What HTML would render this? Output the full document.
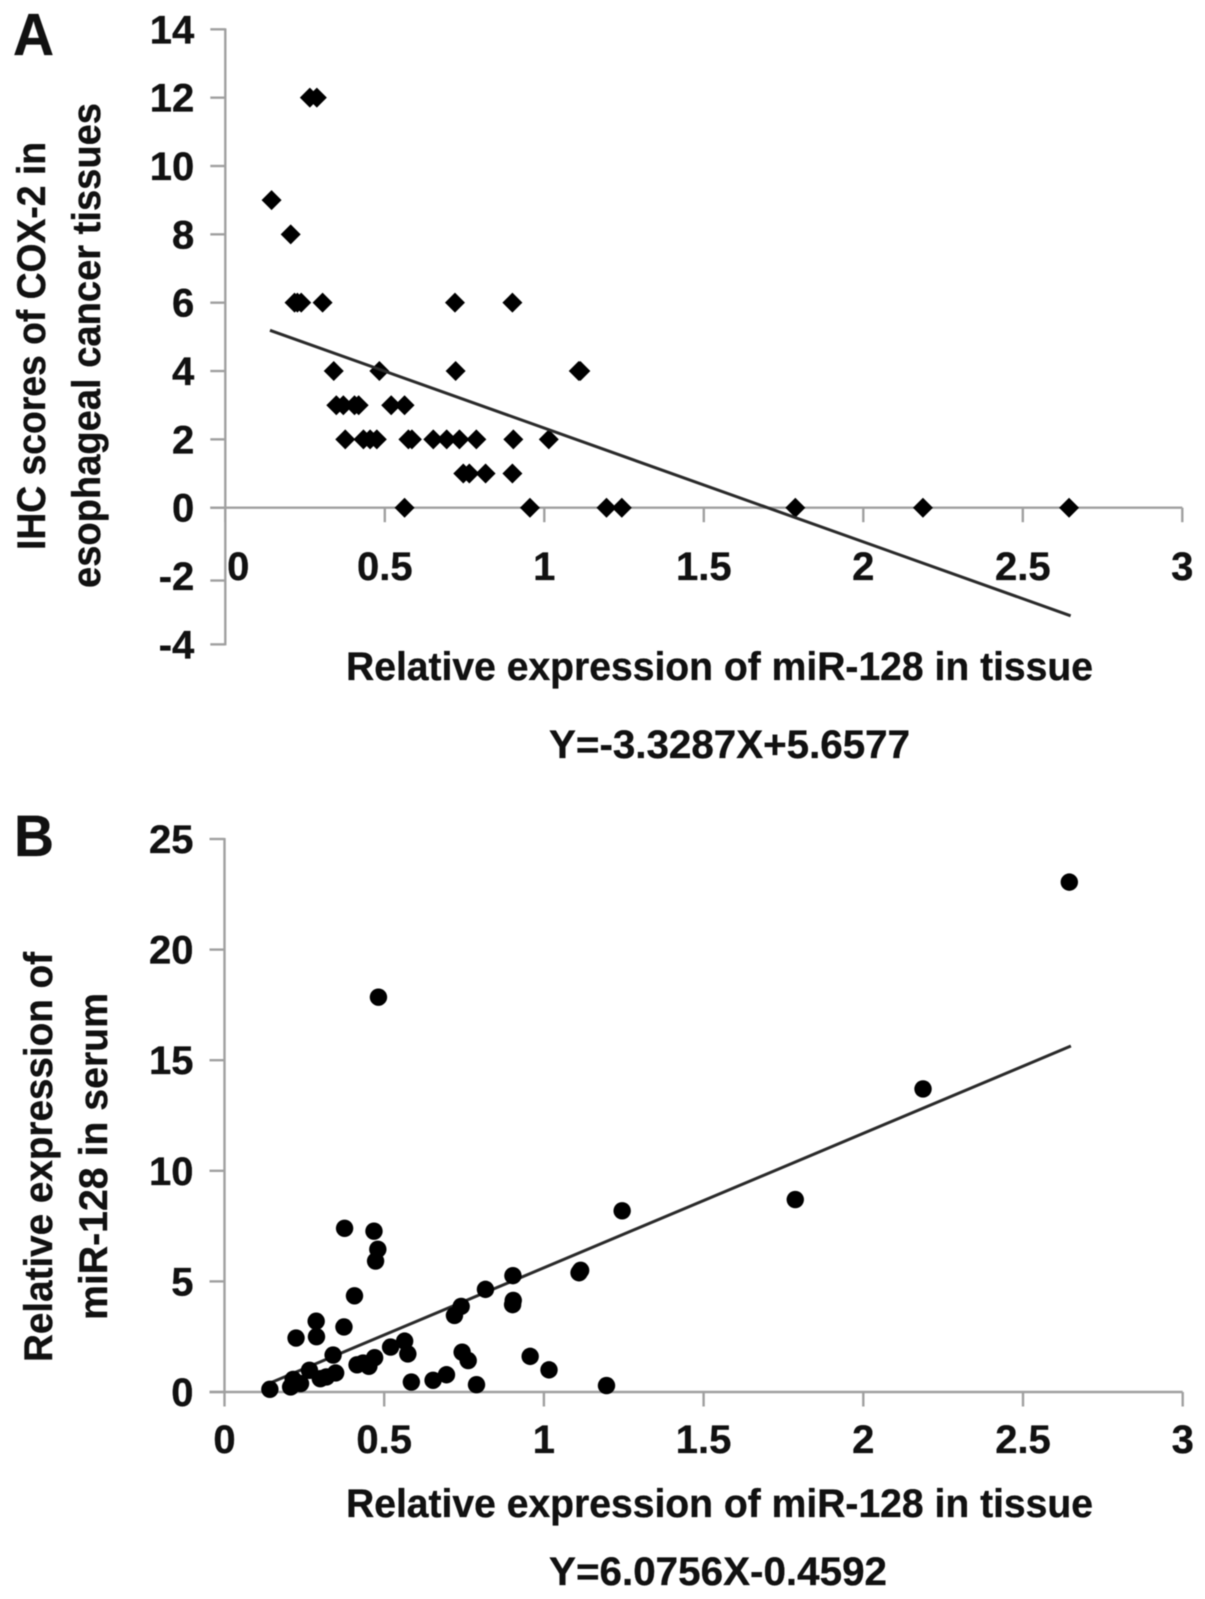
<!DOCTYPE html>
<html lang="en">
<head>
<meta charset="utf-8">
<title>miR-128 correlation scatter plots</title>
<style>
  html, body { margin: 0; padding: 0; background: #fff; }
  svg { display: block; filter: blur(0.6px); }
  text { font-family: "Liberation Sans", sans-serif; font-weight: 700; fill: #111; stroke: #111; stroke-width: 0.35px; }
</style>
</head>
<body>
<svg id="figure" xmlns="http://www.w3.org/2000/svg" width="1205" height="1599" viewBox="0 0 1205 1599">
  <rect x="0" y="0" width="1205" height="1599" fill="#ffffff"/>

  <g id="panelA">
    <text x="13" y="55" font-size="59" textLength="41" lengthAdjust="spacingAndGlyphs">A</text>
    <g id="panelA-axes"></g>
    <g id="panelA-marks"></g>
    <text transform="translate(45,550) rotate(-90)" font-size="40" textLength="408" lengthAdjust="spacingAndGlyphs">IHC scores of COX-2 in</text>
    <text transform="translate(100,588) rotate(-90)" font-size="40" textLength="485" lengthAdjust="spacingAndGlyphs">esophageal cancer tissues</text>
    <text x="346" y="680" font-size="40" textLength="747" lengthAdjust="spacingAndGlyphs">Relative expression of miR-128 in tissue</text>
    <text x="549" y="758" font-size="40" textLength="361" lengthAdjust="spacingAndGlyphs">Y=-3.3287X+5.6577</text>
  </g>

  <g id="panelB">
    <text x="14" y="856" font-size="58" textLength="40" lengthAdjust="spacingAndGlyphs">B</text>
    <g id="panelB-axes"></g>
    <g id="panelB-marks"></g>
    <text transform="translate(52,1362) rotate(-90)" font-size="40" textLength="410" lengthAdjust="spacingAndGlyphs">Relative expression of</text>
    <text transform="translate(107,1320) rotate(-90)" font-size="40" textLength="327" lengthAdjust="spacingAndGlyphs">miR-128 in serum</text>
    <text x="346" y="1517" font-size="40" textLength="747" lengthAdjust="spacingAndGlyphs">Relative expression of miR-128 in tissue</text>
    <text x="549" y="1585" font-size="40" textLength="338" lengthAdjust="spacingAndGlyphs">Y=6.0756X-0.4592</text>
  </g>
</svg>

<script>
// Panel A data
const xTicksA = [0, 0.5, 1, 1.5, 2, 2.5, 3];
const yTicksA = [14, 12, 10, 8, 6, 4, 2, 0, -2, -4];
const tissueA = [0.145, 0.205, 0.265, 0.287,
  0.217, 0.226, 0.238, 0.305, 0.72, 0.90,
  0.34, 0.483, 0.722, 1.108, 1.113,
  0.348, 0.37, 0.405, 0.418, 0.52, 0.562,
  0.376, 0.433, 0.454, 0.475, 0.574, 0.585, 0.652, 0.694, 0.734, 0.787, 0.903, 1.014,
  0.746, 0.765, 0.816, 0.90,
  0.562, 0.955, 1.195, 1.243, 1.787, 2.187, 2.645];
const scoresA = [9, 8, 12, 12,
  6, 6, 6, 6, 6, 6,
  4, 4, 4, 4, 4,
  3, 3, 3, 3, 3, 3,
  2, 2, 2, 2, 2, 2, 2, 2, 2, 2, 2, 2,
  1, 1, 1, 1,
  0, 0, 0, 0, 0, 0, 0];
const trendA = [-3.3287, 5.6577];
const trendRangeA = [0.14, 2.65];

// Panel B data
const xTicksB = [0, 0.5, 1, 1.5, 2, 2.5, 3];
const yTicksB = [25, 20, 15, 10, 5, 0];
const tissueB = [0.142, 0.207, 0.215, 0.238, 0.224, 0.287, 0.288, 0.266, 0.30, 0.319,
  0.348, 0.34, 0.374, 0.376, 0.407, 0.415, 0.434, 0.452, 0.47, 0.468,
  0.48, 0.473, 0.52, 0.564, 0.574, 0.585, 0.653, 0.695, 0.72, 0.741,
  0.744, 0.763, 0.789, 0.817, 0.903, 0.904, 0.902, 0.957, 1.016, 1.11,
  1.115, 1.196, 1.245, 1.787, 2.187, 2.645, 0.482];
const serumB = [0.12, 0.23, 0.57, 0.38, 2.44, 3.2, 2.5, 0.98, 0.6, 0.68,
  0.86, 1.67, 2.94, 7.4, 4.35, 1.23, 1.31, 1.16, 1.55, 7.27,
  6.45, 5.92, 2.03, 2.3, 1.72, 0.45, 0.53, 0.78, 3.46, 3.87,
  1.8, 1.42, 0.33, 4.64, 5.26, 4.14, 3.95, 1.61, 1.0, 5.39,
  5.5, 0.29, 8.19, 8.7, 13.7, 23.05, 17.85];
const trendB = [6.0756, -0.4592];
const trendRangeB = [0.14, 2.65];

const NS = 'http://www.w3.org/2000/svg';
const AXIS_COLOR = '#a0a0a0';
const xA = v => 225.3 + v * 319;
const yA = v => 507.7 - v * 34.17;
const xB = v => 224.5 + v * 319.4;
const yB = v => 1392 - v * 22.12;

function make(tag, attrs, parent) {
  const el = document.createElementNS(NS, tag);
  for (const k in attrs) el.setAttribute(k, attrs[k]);
  parent.appendChild(el);
  return el;
}

function drawAxes(parent, xf, yf, xTicks, yTicks, xLabelBaseline) {
  const x0 = xf(0);
  const y0 = yf(0);
  const style = { stroke: AXIS_COLOR, 'stroke-width': 2.4, fill: 'none' };

  const yLine = make('line', Object.assign({ x1: x0, x2: x0, y1: yf(yTicks[0]) - 1, y2: yf(yTicks[yTicks.length - 1]) + 1 }, style), parent);
  
  

  const xLine = make('line', Object.assign({ x1: x0 - 15, x2: xf(xTicks[xTicks.length - 1]), y1: y0, y2: y0 }, style), parent);
  
  

  yTicks.forEach(t => {
    // The -2 tick in the reference sits a few pixels below its linear position.
    const nudge = t === -2 ? 4.5 : 0;
    const tick = make('line', Object.assign({ x1: x0 - 15, x2: x0, y1: yf(t) + nudge, y2: yf(t) + nudge }, style), parent);
    
    

    const label = make('text', { x: x0 - 31, y: yf(t) + 14, 'font-size': 40, 'text-anchor': 'end' }, parent);
    label.textContent = String(t);
    
    
  });

  xTicks.forEach(t => {
    const tick = make('line', Object.assign({ x1: xf(t), x2: xf(t), y1: y0, y2: y0 + 14.5 }, style), parent);
    
    

    const shift = (t === 0 && xLabelBaseline < 600) ? 13 : 0;
    const label = make('text', { x: xf(t) + shift, y: xLabelBaseline, 'font-size': 40, 'text-anchor': 'middle' }, parent);
    label.textContent = String(t);
    
    
  });
}

function drawTrend(parent, xf, yf, coef, range) {
  const line = make('line', {
    x1: xf(range[0]), y1: yf(coef[0] * range[0] + coef[1]),
    x2: xf(range[1]), y2: yf(coef[0] * range[1] + coef[1]),
    stroke: '#2a2a2a', 'stroke-width': 3
  }, parent);
  
  
}

const axesA = document.getElementById('panelA-axes');
const marksA = document.getElementById('panelA-marks');
const axesB = document.getElementById('panelB-axes');
const marksB = document.getElementById('panelB-marks');

drawAxes(axesA, xA, yA, xTicksA, yTicksA, 580);
drawAxes(axesB, xB, yB, xTicksB, yTicksB, 1453);

tissueA.forEach((x, i) => {
  const cx = xA(x);
  const cy = yA(scoresA[i]);
  const r = 10;
  const d = make('polygon', { points: [cx - r, cy, cx, cy - r, cx + r, cy, cx, cy + r].join(' '), fill: '#000' }, marksA);
  
  
});
drawTrend(marksA, xA, yA, trendA, trendRangeA);

drawTrend(marksB, xB, yB, trendB, trendRangeB);
tissueB.forEach((x, i) => {
  const c = make('circle', { cx: xB(x), cy: yB(serumB[i]), r: 8.7, fill: '#000' }, marksB);
  
  
});
</script>
</body>
</html>
